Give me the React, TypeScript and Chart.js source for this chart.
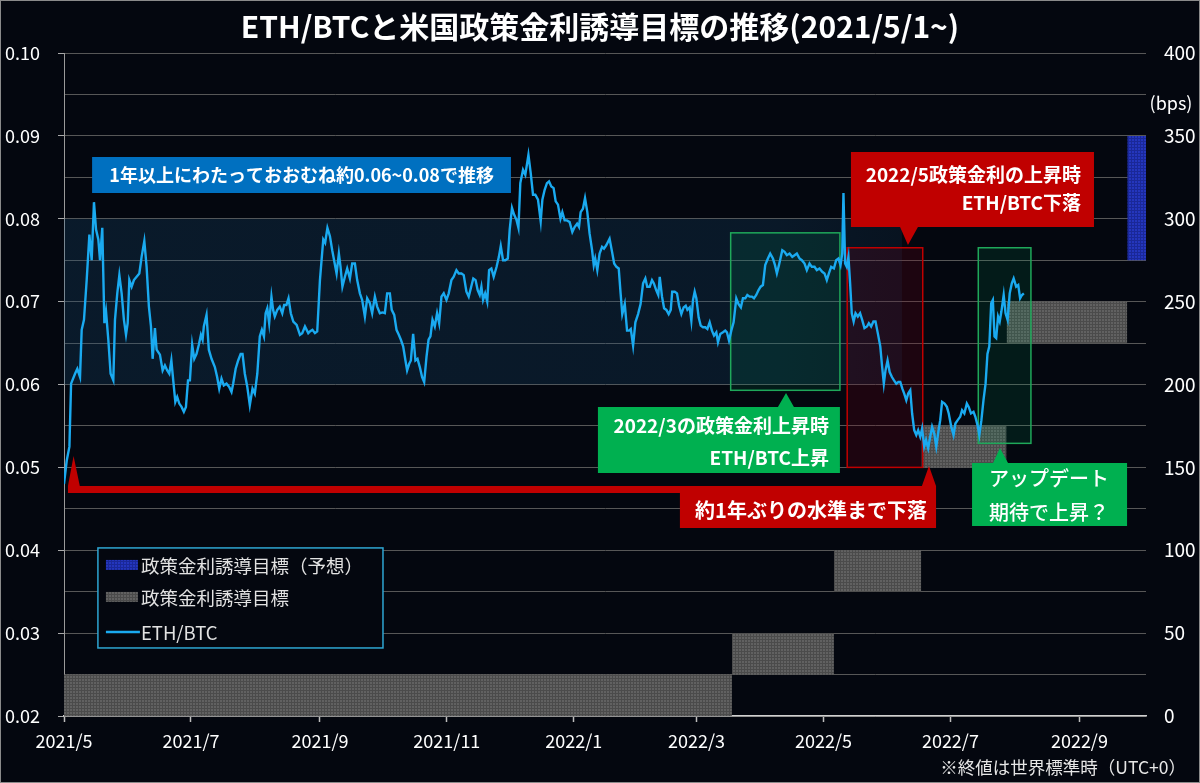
import React, { useEffect, useRef } from "react";
import { Chart, registerables } from "chart.js";

Chart.register(...registerables);

const FONT = '"Noto Sans CJK JP", "Noto Sans", sans-serif';
const BG = "#04070f";
const LINE_COLOR = "#1aaaf0";
const GREEN = "#00b050";
const GREEN_LINE = "#1fa85a";
const RED = "#c00000";
const BLUE_BOX = "#0070c0";

const TITLE = "ETH/BTCと米国政策金利誘導目標の推移(2021/5/1~)";
const NOTE = "※終値は世界標準時（UTC+0）";
const RIGHT_UNIT = "(bps)";

const START_DATE = "2021-05-01";
const END_DATE = "2022-10-03";

const monthTickDates = [
  "2021-05-01", "2021-07-01", "2021-09-01", "2021-11-01", "2022-01-01",
  "2022-03-01", "2022-05-01", "2022-07-01", "2022-09-01",
];
const monthTickLabels = [
  "2021/5", "2021/7", "2021/9", "2021/11", "2022/1",
  "2022/3", "2022/5", "2022/7", "2022/9",
];
const leftTickValues = [
  0.02, 0.025, 0.03, 0.035, 0.04, 0.045, 0.05, 0.055, 0.06,
  0.065, 0.07, 0.075, 0.08, 0.085, 0.09, 0.095, 0.1,
];
const rightTickValues = [0, 50, 100, 150, 200, 250, 300, 350, 400];

// Policy rate target range (bps)
const rateStartDates = ["2021-05-01", "2022-03-18", "2022-05-06", "2022-06-17", "2022-07-28"];
const rateEndDates = ["2022-03-18", "2022-05-06", "2022-06-17", "2022-07-28", "2022-09-24"];
const rateLow = [0, 25, 75, 150, 225];
const rateHigh = [25, 50, 100, 175, 250];
// Forecast
const forecastStartDate = "2022-09-24";
const forecastEndDate = END_DATE;
const forecastLow = 275;
const forecastHigh = 350;

// ETH/BTC (days since 2021-05-01)
const ethDays = [
  0, 1.3, 2.6, 3.4, 5.3, 6.4, 7.7, 8.5, 9.6, 10.9,
  12.2, 13.3, 14.4, 15.4, 16.5, 17.3, 18.4, 19.4, 20.2, 21.3,
  22.4, 23.7, 24.5, 25.6, 26.6, 27.7, 28.8, 29.8, 30.6, 31.4,
  32.5, 33.6, 34.9, 36.2, 37.3, 38.6, 39.7, 40.8, 41.8, 42.6,
  43.7, 44.5, 46.1, 47.4, 48.5, 49.6, 50.6, 51.6, 52.5, 53.5,
  54.4, 55.4, 56.5, 57.6, 58.6, 59.6, 60.5, 61.6, 62.6, 63.7,
  64.8, 65.8, 66.6, 67.2, 68.5, 69.6, 70.9, 72.5, 73.6, 74.6,
  75.7, 76.8, 78.1, 79.4, 80.5, 81.3, 82.5, 83.7, 84.9, 85.8,
  86.9, 88.1, 89.3, 90.6, 91.7, 92.9, 94.1, 95.1, 96.1, 96.9,
  97.7, 98.6, 99.7, 100.5, 101.3, 102.5, 103.7, 104.9, 105.8, 106.9,
  107.9, 109.0, 110.2, 111.8, 113.4, 114.5, 115.8, 117.4,
  118.2, 119.4, 120.6, 121.7, 123.0, 124.6, 125.5, 126.6, 127.8, 128.9,
  129.8, 131.0, 132.1, 132.9, 133.8, 135.0, 136.1, 137.4, 138.5, 139.8,
  140.9, 142.2, 143.3, 144.6, 145.7, 147.0, 148.1, 149.4, 150.5, 151.8,
  153.1, 154.2, 155.3, 156.6, 157.5, 158.7, 159.8, 160.9, 161.9, 163.0,
  164.1, 164.9, 165.9, 166.7, 167.8, 168.9, 169.9, 171.0, 172.1, 173.1,
  174.2, 175.2, 176.1, 177.1, 178.2, 179.3, 180.3, 181.4, 182.5, 183.8,
  184.9, 186.2, 187.3, 188.6, 189.7, 191.0, 192.1, 193.4, 194.5, 195.7,
  196.7, 197.8, 198.8, 199.8, 200.6, 201.4, 202.4, 203.4, 204.3, 205.4,
  206.5, 207.9, 209.0, 209.9, 211.0, 212.1, 213.3, 214.2, 215.3, 216.3,
  217.4, 218.4, 219.3, 220.6, 221.7, 223.2, 224.3, 225.4, 226.5, 227.8,
  229.1,
  229.9, 231.0, 232.1, 233.1, 234.2, 235.3, 236.3, 237.4, 238.6, 239.5,
  240.6, 241.7, 243.0, 244.3, 245.4, 246.6, 247.5, 248.3, 249.4, 250.4,
  251.5, 252.6, 253.8, 254.6, 255.3, 256.3, 257.4, 258.6, 259.5, 260.6,
  261.4, 262.2, 263.4, 264.4, 265.5, 266.6, 267.5, 268.3, 269.5, 270.6,
  271.6, 272.4, 273.5, 274.6, 275.9, 277.1, 278.3, 279.4, 280.3, 281.5,
  282.6, 283.5, 284.6, 285.6, 286.3, 287.4, 288.4, 289.5, 290.6, 291.6,
  292.3, 293.5, 294.6, 295.6, 296.7, 297.8, 298.8, 299.6, 300.7, 301.5,
  302.3, 303.1, 303.9, 305.0, 306.0, 307.1, 308.2, 309.2, 310.3, 311.4,
  312.4, 313.5, 314.3, 315.4, 316.7, 317.8, 318.6, 319.6, 320.7, 321.8,
  323.1, 324.2, 325.3, 326.3, 327.4, 328.4, 329.5, 330.6, 331.6, 332.7,
  333.8, 334.8, 335.9, 337.0, 338.3, 339.4, 340.7, 341.7, 342.6, 343.6,
  345.2, 346.3, 347.4, 348.7, 350.0, 351.1, 352.2, 353.5, 354.6, 355.9,
  357.0, 358.3, 359.4, 360.7, 361.8, 363.1, 364.4, 365.5, 366.6, 367.6,
  368.7, 370.0, 371.1, 372.2, 373.2, 374.0, 374.6, 375.4, 376.2, 377.0,
  377.8, 378.6, 379.5, 380.4, 381.5, 382.6, 383.6, 384.7, 385.9, 386.8,
  387.9, 389.0, 390.0, 391.1, 392.3, 393.2, 394.0, 394.8, 395.8, 396.8,
  397.9, 398.9, 400.0, 401.0, 401.9, 402.9, 403.8, 404.8, 405.7, 406.7,
  407.6, 408.6, 409.6, 410.5, 411.5, 412.4, 413.4, 414.3, 415.3, 416.3,
  417.2, 418.2, 419.2, 420.1, 421.1, 422.0, 423.2, 424.3, 425.2, 426.4,
  427.5, 428.4, 429.5, 430.7, 431.6, 432.7, 433.9, 434.8, 435.9, 437.1,
  438.0, 439.2, 439.9, 440.9, 441.9, 442.9, 443.8, 444.7, 445.6, 446.4,
  447.2, 448.0, 448.9, 449.7, 450.5, 451.6, 452.5, 453.5, 454.5, 455.5,
  456.4, 457.6, 458.6, 459.5, 460.4, 461.3,
];
const ethValues = [
  0.0480, 0.0508, 0.0525, 0.0601, 0.0613, 0.0619, 0.0609, 0.0666, 0.0678, 0.0726,
  0.0781, 0.0750, 0.0820, 0.0787, 0.0775, 0.0750, 0.0789, 0.0674, 0.0688, 0.0654,
  0.0613, 0.0605, 0.0678, 0.0710, 0.0732, 0.0710, 0.0678, 0.0660, 0.0674, 0.0726,
  0.0718, 0.0726, 0.0730, 0.0734, 0.0754, 0.0773, 0.0742, 0.0694, 0.0670, 0.0631,
  0.0668, 0.0642, 0.0636, 0.0617, 0.0623, 0.0617, 0.0613, 0.0629, 0.0605, 0.0579,
  0.0585, 0.0577, 0.0573, 0.0567, 0.0573, 0.0605, 0.0605, 0.0648, 0.0631, 0.0637,
  0.0648, 0.0660, 0.0654, 0.0670, 0.0684, 0.0642, 0.0631, 0.0621, 0.0609, 0.0595,
  0.0607, 0.0599, 0.0601, 0.0597, 0.0591, 0.0601, 0.0619, 0.0629, 0.0637, 0.0637,
  0.0613, 0.0597, 0.0575, 0.0595, 0.0589, 0.0613, 0.0658, 0.0666, 0.0658, 0.0686,
  0.0692, 0.0674, 0.0706, 0.0690, 0.0682, 0.0690, 0.0694, 0.0686, 0.0696, 0.0696,
  0.0704, 0.0686, 0.0676, 0.0672, 0.0660, 0.0662, 0.0670, 0.0662,
  0.0664, 0.0666, 0.0662, 0.0664, 0.0726, 0.0775, 0.0771, 0.0789, 0.0779, 0.0762,
  0.0750, 0.0734, 0.0758, 0.0742, 0.0718, 0.0730, 0.0740, 0.0728, 0.0746, 0.0746,
  0.0726, 0.0710, 0.0702, 0.0682, 0.0704, 0.0698, 0.0686, 0.0706, 0.0694, 0.0686,
  0.0687, 0.0686, 0.0710, 0.0710, 0.0690, 0.0684, 0.0666, 0.0660, 0.0654, 0.0646,
  0.0629, 0.0617, 0.0625, 0.0629, 0.0661, 0.0629, 0.0631, 0.0621, 0.0609, 0.0603,
  0.0633, 0.0654, 0.0658, 0.0678, 0.0670, 0.0686, 0.0674, 0.0706, 0.0710, 0.0702,
  0.0710, 0.0726, 0.0730, 0.0738, 0.0734, 0.0734, 0.0732, 0.0712, 0.0706, 0.0718,
  0.0728, 0.0726, 0.0714, 0.0708, 0.0718, 0.0702, 0.0710, 0.0700, 0.0738, 0.0740,
  0.0730, 0.0742, 0.0754, 0.0767, 0.0750, 0.0750, 0.0752, 0.0787, 0.0813, 0.0805,
  0.0799, 0.0789, 0.0843, 0.0859, 0.0853, 0.0877, 0.0855, 0.0829, 0.0829, 0.0823,
  0.0797,
  0.0823, 0.0835, 0.0843, 0.0845, 0.0839, 0.0837, 0.0821, 0.0817, 0.0800, 0.0808,
  0.0798, 0.0798, 0.0796, 0.0784, 0.0790, 0.0794, 0.0790, 0.0808, 0.0812, 0.0825,
  0.0808, 0.0782, 0.0762, 0.0744, 0.0752, 0.0738, 0.0758, 0.0766, 0.0764, 0.0768,
  0.0772, 0.0776, 0.0760, 0.0746, 0.0742, 0.0740, 0.0710, 0.0685, 0.0697, 0.0665,
  0.0665, 0.0667, 0.0647, 0.0675, 0.0685, 0.0697, 0.0722, 0.0728, 0.0718, 0.0718,
  0.0726, 0.0722, 0.0714, 0.0708, 0.0730, 0.0706, 0.0692, 0.0690, 0.0685, 0.0690,
  0.0712, 0.0712, 0.0710, 0.0695, 0.0685, 0.0693, 0.0695, 0.0690, 0.0693, 0.0677,
  0.0702, 0.0712, 0.0704, 0.0681, 0.0671, 0.0669, 0.0669, 0.0667, 0.0675, 0.0665,
  0.0659, 0.0663, 0.0651, 0.0661, 0.0663, 0.0665, 0.0663, 0.0653, 0.0665, 0.0675,
  0.0704, 0.0697, 0.0693, 0.0704, 0.0704, 0.0708, 0.0706, 0.0706, 0.0704, 0.0708,
  0.0714, 0.0718, 0.0720, 0.0744, 0.0752, 0.0758, 0.0752, 0.0744, 0.0734, 0.0744,
  0.0762, 0.0760, 0.0756, 0.0758, 0.0754, 0.0756, 0.0758, 0.0752, 0.0750, 0.0746,
  0.0738, 0.0746, 0.0742, 0.0742, 0.0738, 0.0740, 0.0736, 0.0734, 0.0726, 0.0734,
  0.0742, 0.0740, 0.0750, 0.0752, 0.0744, 0.0758, 0.0831, 0.0746, 0.0742, 0.0754,
  0.0722, 0.0686, 0.0676, 0.0686, 0.0682, 0.0686, 0.0678, 0.0668, 0.0670, 0.0674,
  0.0670, 0.0676, 0.0676, 0.0662, 0.0646, 0.0621, 0.0601, 0.0617, 0.0629, 0.0615,
  0.0609, 0.0605, 0.0601, 0.0603, 0.0603, 0.0595, 0.0589, 0.0581, 0.0589, 0.0593,
  0.0565, 0.0545, 0.0539, 0.0545, 0.0537, 0.0547, 0.0525, 0.0533, 0.0523, 0.0537,
  0.0549, 0.0541, 0.0525, 0.0541, 0.0557, 0.0579, 0.0577, 0.0573, 0.0565, 0.0549,
  0.0539, 0.0553, 0.0557, 0.0561, 0.0569, 0.0565, 0.0577, 0.0573, 0.0565, 0.0567,
  0.0561, 0.0549, 0.0539, 0.0557, 0.0581, 0.0601, 0.0637, 0.0646, 0.0698, 0.0702,
  0.0658, 0.0656, 0.0682, 0.0676, 0.0688, 0.0708, 0.0686, 0.0678, 0.0710, 0.0722,
  0.0728, 0.0718, 0.0720, 0.0704, 0.0708, 0.0710,
];

// Annotation geometry in data units (x: days, y: ETH/BTC)
const band = { x0: 0, x1: 402.7, y0: 0.06, y1: 0.08 };
const highlightBoxes = [
  { x0: 320.4, x1: 372.9, y0: 0.0593, y1: 0.0783, stroke: GREEN_LINE, fill: "rgba(0,170,100,0.12)" },
  { x0: 376.4, x1: 412.7, y0: 0.05, y1: 0.0765, stroke: RED, fill: "rgba(120,0,25,0.22)" },
  { x0: 439.4, x1: 464.7, y0: 0.0529, y1: 0.0765, stroke: GREEN_LINE, fill: "rgba(0,170,100,0.12)" },
];

type Callout = {
  color: string;
  rects: number[][];
  tris: number[][][];
  font: string;
  align: CanvasTextAlign;
  lines: { text: string; x: number; y: number }[];
};

const callouts: Callout[] = [
  {
    color: BLUE_BOX,
    rects: [[13.5, 214.8, 0.08311, 0.08745]],
    tris: [],
    font: `bold 18px ${FONT}`,
    align: "center",
    lines: [{ text: "1年以上にわたっておおむね約0.06~0.08で推移", x: 114.2, y: 0.08528 }],
  },
  {
    color: RED,
    rects: [[378.2, 495.0, 0.079, 0.08805]],
    tris: [[[401.8, 0.079], [410.4, 0.079], [405.6, 0.07683]]],
    font: `bold 19px ${FONT}`,
    align: "right",
    lines: [
      { text: "2022/5政策金利の上昇時", x: 488.8, y: 0.08528 },
      { text: "ETH/BTC下落", x: 488.8, y: 0.08187 },
    ],
  },
  {
    color: GREEN,
    rects: [[256.6, 372.9, 0.04932, 0.05728]],
    tris: [[[343.1, 0.05728], [350.8, 0.05728], [347.0, 0.05897]]],
    font: `bold 19px ${FONT}`,
    align: "right",
    lines: [
      { text: "2022/3の政策金利上昇時", x: 367.6, y: 0.05499 },
      { text: "ETH/BTC上昇", x: 367.6, y: 0.05113 },
    ],
  },
  {
    color: RED,
    rects: [
      [1.9, 419.1, 0.04691, 0.04775],
      [296.0, 419.1, 0.04268, 0.04691],
    ],
    tris: [
      [[1.9, 0.04775], [7.6, 0.04775], [4.6, 0.05137]],
      [[412.3, 0.04775], [419.1, 0.04775], [415.7, 0.05017]],
    ],
    font: `bold 20px ${FONT}`,
    align: "center",
    lines: [{ text: "約1年ぶりの水準まで下落", x: 359.0, y: 0.04486 }],
  },
  {
    color: GREEN,
    rects: [[436.4, 510.9, 0.04293, 0.05053]],
    tris: [[[446.5, 0.05053], [453.7, 0.05053], [449.8, 0.05234]]],
    font: `500 20px ${FONT}`,
    align: "center",
    lines: [
      { text: "アップデート", x: 473.4, y: 0.04872 },
      { text: "期待で上昇？", x: 473.4, y: 0.04462 },
    ],
  },
];

const legendBox = { x0: 16.3, x1: 153.3, y0: 0.02821, y1: 0.04028 };
const legendLabels = ["政策金利誘導目標（予想）", "政策金利誘導目標", "ETH/BTC"];

function dayOf(date: string): number {
  return Math.round((Date.parse(date) - Date.parse(START_DATE)) / 86400000);
}

function isMajor(v: number): boolean {
  return Math.abs(Math.round(v * 100) - v * 100) < 1e-6;
}

function makePattern(ctx: CanvasRenderingContext2D, base: string, line: string): CanvasPattern {
  const c = document.createElement("canvas");
  c.width = 3;
  c.height = 3;
  const g = c.getContext("2d")!;
  g.fillStyle = base;
  g.fillRect(0, 0, 3, 3);
  g.fillStyle = line;
  g.fillRect(0, 0, 3, 1);
  g.fillRect(0, 0, 1, 3);
  return ctx.createPattern(c, "repeat")!;
}

export default function App() {
  const ref = useRef<HTMLCanvasElement>(null);

  useEffect(() => {
    document.body.style.margin = "0";
    const canvas = ref.current!;
    const c2d = canvas.getContext("2d")!;
    const grayPattern = makePattern(c2d, "#616161", "#4b4b4b");
    const bluePattern = makePattern(c2d, "#2436bd", "#1a2898");

    const xMax = dayOf(END_DATE);

    const rateDatasets = rateStartDates.map((s, i) => ({
      label: "政策金利誘導目標",
      data: [
        { x: dayOf(s), y: rateHigh[i] },
        { x: dayOf(rateEndDates[i]), y: rateHigh[i] },
      ],
      yAxisID: "y2",
      borderWidth: 0,
      borderColor: "rgba(0,0,0,0)",
      pointRadius: 0,
      fill: { value: rateLow[i] },
      backgroundColor: grayPattern,
      order: 1,
    }));

    const forecastDataset = {
      label: "政策金利誘導目標（予想）",
      data: [
        { x: dayOf(forecastStartDate), y: forecastHigh },
        { x: dayOf(forecastEndDate), y: forecastHigh },
      ],
      yAxisID: "y2",
      borderWidth: 0,
      borderColor: "rgba(0,0,0,0)",
      pointRadius: 0,
      fill: { value: forecastLow },
      backgroundColor: bluePattern,
      order: 1,
    };

    const bgPlugin = {
      id: "bgPlugin",
      beforeDraw(chart: any) {
        const { ctx, width, height } = chart;
        ctx.save();
        ctx.fillStyle = BG;
        ctx.fillRect(0, 0, width, height);
        ctx.restore();
      },
    };

    const annotationPlugin = {
      id: "annotationPlugin",
      beforeDatasetDraw(chart: any, args: any) {
        if (args.index !== 0) return;
        const { ctx } = chart;
        const xs = chart.scales.x;
        const ys = chart.scales.y;
        const X = (d: number) => xs.getPixelForValue(d);
        const Y = (v: number) => ys.getPixelForValue(v);
        ctx.save();
        const bx0 = X(band.x0), bx1 = X(band.x1);
        const grad = ctx.createLinearGradient(bx0, 0, bx1, 0);
        grad.addColorStop(0, "rgba(25,80,120,0.26)");
        grad.addColorStop(0.85, "rgba(25,80,120,0.24)");
        grad.addColorStop(1, "rgba(25,80,120,0.16)");
        ctx.fillStyle = grad;
        ctx.fillRect(bx0, Y(band.y1), bx1 - bx0, Y(band.y0) - Y(band.y1));
        for (const b of highlightBoxes) {
          const x0 = X(b.x0), x1 = X(b.x1), y0 = Y(b.y1), y1 = Y(b.y0);
          ctx.fillStyle = b.fill;
          ctx.fillRect(x0, y0, x1 - x0, y1 - y0);
          ctx.strokeStyle = b.stroke;
          ctx.lineWidth = 1.5;
          ctx.strokeRect(x0, y0, x1 - x0, y1 - y0);
        }
        ctx.restore();
      },
      afterDatasetsDraw(chart: any) {
        const { ctx } = chart;
        const xs = chart.scales.x;
        const ys = chart.scales.y;
        const X = (d: number) => xs.getPixelForValue(d);
        const Y = (v: number) => ys.getPixelForValue(v);
        ctx.save();
        for (const c of callouts) {
          ctx.fillStyle = c.color;
          ctx.beginPath();
          for (const r of c.rects) {
            ctx.rect(X(r[0]), Y(r[3]), X(r[1]) - X(r[0]), Y(r[2]) - Y(r[3]));
          }
          for (const t of c.tris) {
            ctx.moveTo(X(t[0][0]), Y(t[0][1]));
            ctx.lineTo(X(t[1][0]), Y(t[1][1]));
            ctx.lineTo(X(t[2][0]), Y(t[2][1]));
            ctx.closePath();
          }
          ctx.fill();
          ctx.fillStyle = "#ffffff";
          ctx.font = c.font;
          ctx.textAlign = c.align;
          ctx.textBaseline = "middle";
          for (const l of c.lines) ctx.fillText(l.text, X(l.x), Y(l.y));
        }

        const lx0 = X(legendBox.x0), lx1 = X(legendBox.x1);
        const ly0 = Y(legendBox.y1), ly1 = Y(legendBox.y0);
        ctx.fillStyle = BG;
        ctx.fillRect(lx0, ly0, lx1 - lx0, ly1 - ly0);
        ctx.strokeStyle = "#2ea6d2";
        ctx.lineWidth = 1.5;
        ctx.strokeRect(lx0, ly0, lx1 - lx0, ly1 - ly0);
        const rows = [ly0 + 17, ly0 + 49, ly0 + 84];
        const swX = lx0 + 8, swW = 32;
        ctx.fillStyle = bluePattern;
        ctx.fillRect(swX, rows[0] - 5, swW, 10);
        ctx.fillStyle = grayPattern;
        ctx.fillRect(swX, rows[1] - 5, swW, 10);
        ctx.strokeStyle = LINE_COLOR;
        ctx.lineWidth = 2.5;
        ctx.beginPath();
        ctx.moveTo(swX, rows[2]);
        ctx.lineTo(swX + swW + 2, rows[2]);
        ctx.stroke();
        ctx.fillStyle = "#e2e2e2";
        ctx.font = `18.5px ${FONT}`;
        ctx.textAlign = "left";
        ctx.textBaseline = "middle";
        legendLabels.forEach((t, i) => ctx.fillText(t, swX + swW + 3, rows[i] + 1));
        ctx.restore();
      },
      afterDraw(chart: any) {
        const { ctx, width, height } = chart;
        const y2 = chart.scales.y2;
        ctx.save();
        ctx.fillStyle = "#ffffff";
        ctx.font = `bold 30px ${FONT}`;
        ctx.textAlign = "center";
        ctx.textBaseline = "middle";
        ctx.fillText(TITLE, width / 2, 27);

        ctx.font = `18px ${FONT}`;
        ctx.fillText(RIGHT_UNIT, y2.left + 25, y2.getPixelForValue(370));

        ctx.fillStyle = "#e6e6e6";
        ctx.font = `17.5px ${FONT}`;
        ctx.textAlign = "right";
        ctx.fillText(NOTE, width - 14, height - 16);

        ctx.strokeStyle = "#8a8a8a";
        ctx.lineWidth = 1;
        ctx.strokeRect(0.5, 0.5, width - 1, height - 1);
        ctx.restore();
      },
    };

    Chart.defaults.font.family = FONT;

    const chart = new Chart(canvas, {
      type: "line",
      data: {
        datasets: [
          {
            label: "ETH/BTC",
            data: ethDays.map((d, i) => ({ x: d, y: ethValues[i] })),
            borderColor: LINE_COLOR,
            borderWidth: 2.4,
            pointRadius: 0,
            tension: 0,
            fill: false,
            yAxisID: "y",
            order: 0,
          } as any,
          ...rateDatasets,
          forecastDataset,
        ],
      },
      options: {
        responsive: false,
        animation: false,
        events: [],
        layout: { padding: { left: 5, top: 53, right: 0, bottom: 0 } },
        plugins: {
          legend: { display: false },
          tooltip: { enabled: false },
          title: { display: false },
        },
        scales: {
          x: {
            type: "linear",
            min: 0,
            max: xMax,
            afterBuildTicks: (s: any) => {
              s.ticks = monthTickDates.map((d) => ({ value: dayOf(d) }));
            },
            afterFit: (s: any) => {
              s.height = 67;
            },
            ticks: {
              autoSkip: false,
              maxRotation: 0,
              color: "#ffffff",
              font: { size: 18 },
              padding: 8,
              callback: (_v: any, i: number) => monthTickLabels[i],
            },
            grid: {
              drawOnChartArea: false,
              drawTicks: true,
              tickLength: 6,
              tickColor: "#bdbdbd",
              tickWidth: 1.5,
            },
            border: { display: true, color: "#d0d0d0", width: 1.5 },
          },
          y: {
            type: "linear",
            position: "left",
            min: 0.02,
            max: 0.1,
            afterBuildTicks: (s: any) => {
              s.ticks = leftTickValues.map((v) => ({ value: v }));
            },
            afterFit: (s: any) => {
              s.width = 59;
            },
            ticks: {
              autoSkip: false,
              color: "#ffffff",
              font: { size: 18 },
              crossAlign: "far",
              callback: (v: any) => (isMajor(Number(v)) ? Number(v).toFixed(2) : ""),
            },
            grid: {
              color: "#575757",
              lineWidth: 1,
              tickLength: 6,
              tickColor: (ctx: any) =>
                ctx.tick && isMajor(ctx.tick.value) ? "#a8a8a8" : "rgba(0,0,0,0)",
            },
            border: { display: true, color: "#9a9a9a", width: 1 },
          },
          y2: {
            type: "linear",
            position: "right",
            min: 0,
            max: 400,
            afterBuildTicks: (s: any) => {
              s.ticks = rightTickValues.map((v) => ({ value: v }));
            },
            afterFit: (s: any) => {
              s.width = 54;
            },
            ticks: {
              autoSkip: false,
              color: "#ffffff",
              font: { size: 19 },
              padding: 18,
              crossAlign: "near",
              callback: (v: any) => String(v),
            },
            grid: { display: false, drawTicks: false },
            border: { display: false },
          },
        },
      } as any,
      plugins: [bgPlugin, annotationPlugin],
    });

    return () => chart.destroy();
  }, []);

  return (
    <div style={{ width: 1200, height: 783, position: "relative", background: BG }}>
      <canvas ref={ref} width={1200} height={783} style={{ display: "block", width: 1200, height: 783 }} />
    </div>
  );
}
